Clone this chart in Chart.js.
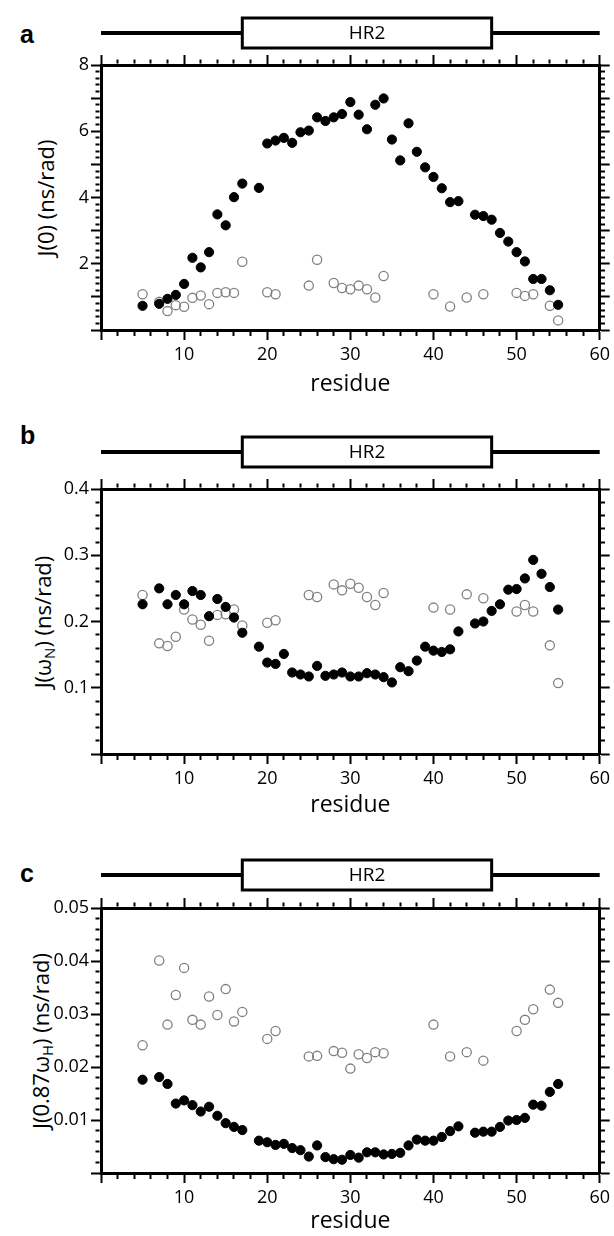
<!DOCTYPE html>
<html>
<head>
<meta charset="utf-8">
<script src="https://cdn.jsdelivr.net/npm/chart.js@4.4.1/dist/chart.umd.min.js"></script>
<style>
  body { margin: 0; background: #fff; width: 614px; height: 1236px; position: relative; overflow: hidden; font-family: "Open Sans", sans-serif; }
  canvas { position: absolute; left: 0; }
  .letter { position: absolute; left: 20px; font: bold 25px "Liberation Sans", Arial, sans-serif; line-height: 1; }
  .ytitle { position: absolute; white-space: nowrap; font-size: 22px; line-height: 1; transform: translate(-50%, -50%) rotate(-90deg); }
  .ytitle sub { font-size: 15px; vertical-align: -4px; }
</style>
</head>
<body>
<div class="letter" style="top:22px">a</div>
<div class="letter" style="top:423px">b</div>
<div class="letter" style="top:861px">c</div>
<div class="ytitle" style="left:45px; top:198px">J(0) (ns/rad)</div>
<div class="ytitle" style="left:44px; top:622px">J(ω<sub>N</sub>) (ns/rad)</div>
<div class="ytitle" style="left:42px; top:1041px">J(0.87ω<sub>H</sub>) (ns/rad)</div>
<canvas id="chartA" width="614" height="410" style="top:0px"></canvas>
<canvas id="chartB" width="614" height="410" style="top:424px"></canvas>
<canvas id="chartC" width="614" height="393" style="top:843px"></canvas>
<script>
// residues with data
const residuesFilled = [5, 7, 8, 9, 10, 11, 12, 13, 14, 15, 16, 17, 19, 20, 21, 22, 23, 24, 25, 26, 27, 28, 29, 30, 31,
  32, 33, 34, 35, 36, 37, 38, 39, 40, 41, 42, 43, 45, 46, 47, 48, 49, 50, 51, 52, 53, 54, 55];
const residuesOpen = [5, 7, 8, 9, 10, 11, 12, 13, 14, 15, 16, 17, 20, 21, 25, 26, 28, 29, 30, 31, 32, 33, 34,
  40, 42, 44, 46, 50, 51, 52, 54, 55];

// HR2 helix region
const hr2Start = 17;
const hr2End = 47;

// panel a: J(0)
const j0Filled = [0.73, 0.79, 0.94, 1.06, 1.39, 2.18, 1.89, 2.35, 3.49, 3.16, 4.01, 4.42, 4.29, 5.63, 5.72, 5.80, 5.65,
  5.97, 6.02, 6.42, 6.31, 6.42, 6.52, 6.88, 6.50, 6.06, 6.80, 6.99, 5.75, 5.12, 6.24, 5.38, 4.91, 4.62, 4.28, 3.86,
  3.89, 3.48, 3.44, 3.33, 2.93, 2.67, 2.35, 2.07, 1.54, 1.54, 1.20, 0.76];
const j0Open = [1.08, 0.85, 0.57, 0.75, 0.70, 0.97, 1.04, 0.78, 1.12, 1.14, 1.12, 2.06, 1.14, 1.08, 1.34, 2.12, 1.42,
  1.27, 1.23, 1.34, 1.23, 0.98, 1.63, 1.08, 0.71, 0.98, 1.08, 1.12, 1.03, 1.08, 0.73, 0.29];

// panel b: J(wN)
const jnFilled = [0.226, 0.250, 0.226, 0.240, 0.226, 0.246, 0.240, 0.208, 0.234, 0.222, 0.206, 0.183, 0.162, 0.138,
  0.136, 0.151, 0.123, 0.120, 0.117, 0.133, 0.118, 0.120, 0.123, 0.117, 0.117, 0.122, 0.120, 0.116, 0.108, 0.131,
  0.125, 0.141, 0.162, 0.156, 0.154, 0.158, 0.185, 0.197, 0.200, 0.216, 0.226, 0.248, 0.249, 0.265, 0.293, 0.272,
  0.252, 0.218];
const jnOpen = [0.240, 0.167, 0.163, 0.177, 0.218, 0.203, 0.195, 0.171, 0.210, 0.211, 0.218, 0.194, 0.198, 0.202,
  0.240, 0.237, 0.256, 0.247, 0.257, 0.251, 0.237, 0.225, 0.243, 0.221, 0.218, 0.241, 0.235, 0.215, 0.225, 0.215,
  0.164, 0.107];

// panel c: J(0.87wH)
const jhFilled = [0.0176, 0.0181, 0.0168, 0.0131, 0.0137, 0.0128, 0.0116, 0.0125, 0.0108, 0.0094, 0.0087, 0.0081,
  0.0061, 0.0058, 0.0053, 0.0055, 0.0047, 0.0043, 0.0031, 0.0052, 0.0030, 0.0026, 0.0025, 0.0034, 0.0029, 0.0039,
  0.0039, 0.0035, 0.0036, 0.0038, 0.0052, 0.0063, 0.0061, 0.0061, 0.0068, 0.0079, 0.0088, 0.0076, 0.0078, 0.0078,
  0.0087, 0.0099, 0.0100, 0.0104, 0.0129, 0.0127, 0.0153, 0.0168];
const jhOpen = [0.0241, 0.0401, 0.0280, 0.0336, 0.0387, 0.0289, 0.0280, 0.0333, 0.0298, 0.0347, 0.0286, 0.0304,
  0.0253, 0.0268, 0.0220, 0.0221, 0.0230, 0.0227, 0.0197, 0.0224, 0.0217, 0.0228, 0.0226, 0.0280, 0.0220, 0.0228,
  0.0212, 0.0268, 0.0289, 0.0309, 0.0346, 0.0321];

const FONT = '"Open Sans", sans-serif';

function isMajor(v, major) {
  const r = v / major;
  return Math.abs(r - Math.round(r)) < 1e-6;
}

// one axis; minor ticks are cut short with a dash pattern
function makeAxis(pos, min, max, step, major, labelFn, size) {
  const outerFirst = pos === 'top' || pos === 'left';
  return {
    type: 'linear',
    position: pos,
    min: min,
    max: max,
    border: { display: true, color: '#000', width: 3 },
    grid: {
      drawOnChartArea: false,
      drawTicks: true,
      tickLength: 10,
      tickWidth: 2,
      tickColor: '#000',
      tickBorderDash: (ctx) => {
        if (!ctx.tick || isMajor(ctx.tick.value, major)) return [];
        return outerFirst ? [0, 4.5, 4, 100] : [4, 100];
      }
    },
    ticks: {
      stepSize: step,
      autoSkip: false,
      maxRotation: 0,
      includeBounds: true,
      display: !!labelFn,
      callback: labelFn || (() => ''),
      color: '#000',
      padding: pos === 'left' ? 2 : 4,
      font: { family: FONT, size: 18 }
    },
    afterFit: (s) => {
      if (s.isHorizontal()) s.height = size; else s.width = size;
    }
  };
}

function toPoints(xs, ys) {
  return xs.map((x, i) => ({ x: x, y: ys[i] }));
}

// draws the HR2 bar above the plot using the x scale
const hr2Plugin = {
  id: 'hr2',
  afterDraw(chart, args, opts) {
    const ctx = chart.ctx;
    const xs = chart.scales.x;
    const y = chart.chartArea.top - opts.gap;
    const x0 = xs.getPixelForValue(0);
    const x1 = xs.getPixelForValue(60);
    const b0 = xs.getPixelForValue(hr2Start);
    const b1 = xs.getPixelForValue(hr2End);
    ctx.save();
    ctx.strokeStyle = '#000';
    ctx.lineWidth = 4;
    ctx.beginPath();
    ctx.moveTo(x0, y);
    ctx.lineTo(x1, y);
    ctx.stroke();
    ctx.fillStyle = '#fff';
    ctx.fillRect(b0, y - 15, b1 - b0, 30);
    ctx.lineWidth = 3;
    ctx.strokeRect(b0, y - 15, b1 - b0, 30);
    ctx.fillStyle = '#000';
    ctx.font = '19px ' + FONT;
    ctx.textAlign = 'center';
    ctx.textBaseline = 'middle';
    ctx.fillText('HR2', (b0 + b1) / 2, y + 1);
    ctx.restore();
  }
};

function makeChart(id, filled, open, yMax, yStep, yMajor, yLabel, bottomSize, titlePad, gap) {
  const xLabel = (v) => (v > 0 && v % 10 === 0) ? String(v) : '';
  const xAxis = makeAxis('bottom', 0, 60, 2, 10, xLabel, bottomSize);
  xAxis.title = { display: true, text: 'residue', color: '#000', font: { family: FONT, size: 23 }, padding: { top: 0, bottom: titlePad } };
  return new Chart(document.getElementById(id), {
    type: 'scatter',
    data: {
      datasets: [
        {
          data: filled,
          pointRadius: 4.6,
          pointBackgroundColor: '#000',
          pointBorderColor: '#000',
          pointBorderWidth: 1
        },
        {
          data: open,
          pointRadius: 4.6,
          pointBackgroundColor: 'rgba(255,255,255,0)',
          pointBorderColor: '#808080',
          pointBorderWidth: 1.3
        }
      ]
    },
    options: {
      responsive: false,
      animation: false,
      layout: { padding: 0 },
      scales: {
        x: xAxis,
        x2: makeAxis('top', 0, 60, 2, 10, null, 65),
        y: makeAxis('left', 0, yMax, yStep, yMajor, yLabel, 101),
        y2: makeAxis('right', 0, yMax, yStep, yMajor, null, 14)
      },
      plugins: {
        legend: { display: false },
        tooltip: { enabled: false },
        hr2: { gap: gap }
      }
    },
    plugins: [hr2Plugin]
  });
}

makeChart('chartA', toPoints(residuesFilled, j0Filled), toPoints(residuesOpen, j0Open),
  8, 0.2, 1, (v) => (v > 0 && isMajor(v, 2)) ? String(Math.round(v)) : '', 80, 12, 32);

makeChart('chartB', toPoints(residuesFilled, jnFilled), toPoints(residuesOpen, jnOpen),
  0.4, 0.02, 0.1, (v) => (v > 0.001 && isMajor(v, 0.1)) ? v.toFixed(1) : '', 80, 15, 37);

makeChart('chartC', toPoints(residuesFilled, jhFilled), toPoints(residuesOpen, jhOpen),
  0.05, 0.002, 0.01, (v) => (v > 0.0001 && isMajor(v, 0.01)) ? v.toFixed(2) : '', 63, 1, 33);
</script>
</body>
</html>
